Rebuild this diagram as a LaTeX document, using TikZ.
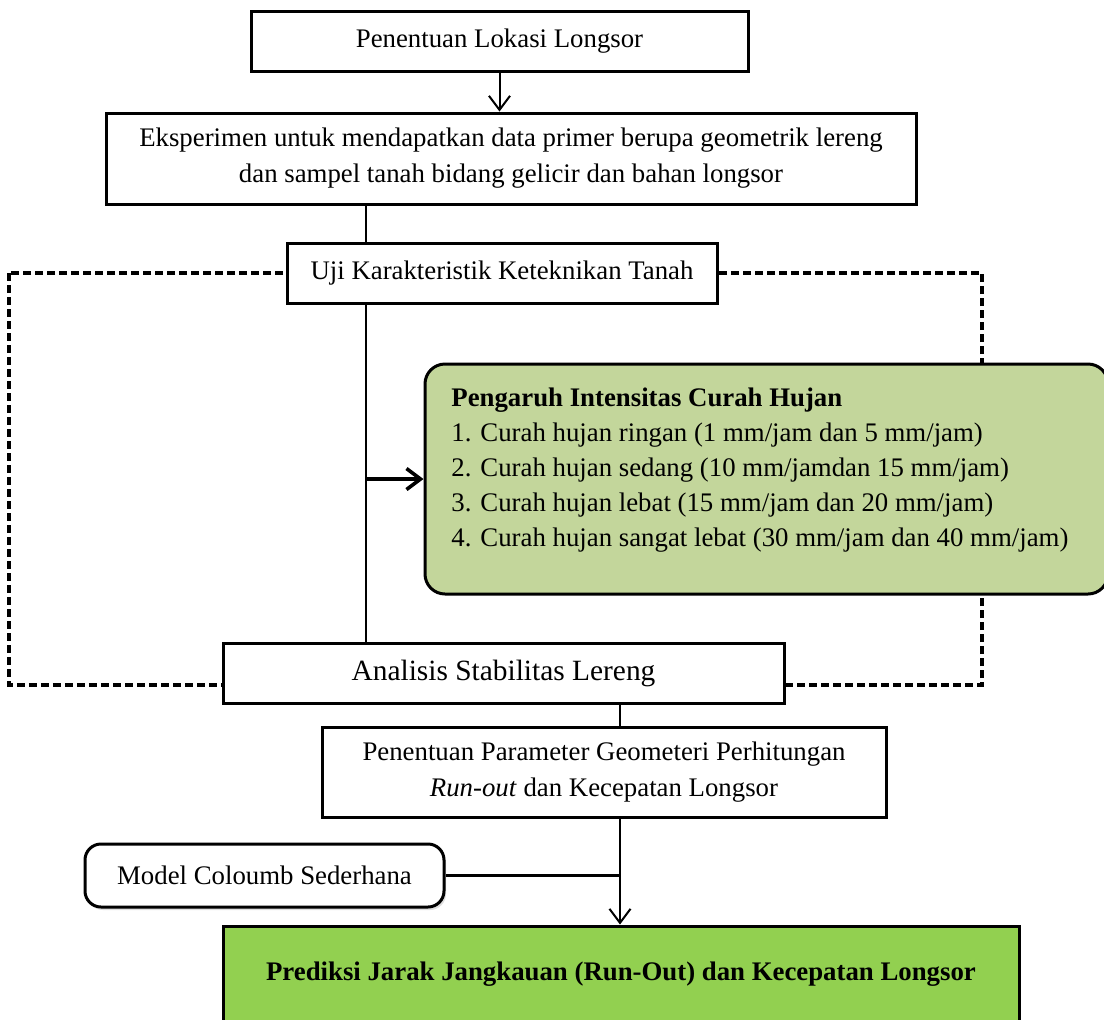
\documentclass[tikz,border=0pt]{standalone}
\usepackage{fontspec}
\setmainfont{Liberation Serif}
\usetikzlibrary{arrows.meta,shadows}
\definecolor{hijaumuda}{HTML}{C3D69B}
\definecolor{hijau}{HTML}{92D050}

\begin{document}
\begin{tikzpicture}[x=0.5pt,y=-0.5pt,
	kotak/.style={draw,line width=1.5pt,fill=white,align=center,inner sep=0pt,font=\fontsize{13.4}{18}\selectfont},
	garis/.style={line width=1pt},
	panah/.style={line width=1pt,-{Straight Barb[length=7pt,width=10.5pt]}},
	putus/.style={line width=1.6pt,dash pattern=on 4pt off 2pt}]
	\clip (0,0) rectangle (1104,1019);
	\fill[white] (0,0) rectangle (1104,1019);
	% bingkai putus-putus
	\draw[putus] (9,273) rectangle (982,685);
	\coordinate (sumbu) at (366,0);
	\coordinate (sumbudua) at (620,0);
	\node[kotak,minimum width=248.5pt,minimum height=30pt] (lokasi) at (499.5,41) {Penentuan Lokasi Longsor};
	\node[kotak,minimum width=405pt,minimum height=45.5pt] (eksperimen) at (511,158.5) {Eksperimen untuk mendapatkan data primer berupa geometrik lereng\\dan sampel tanah bidang gelicir dan bahan longsor};
	\node[kotak,minimum width=215pt,minimum height=30pt] (uji) at (502,273) {Uji Karakteristik Keteknikan Tanah};
	\node[kotak,rounded corners=10pt,fill=hijaumuda,minimum width=341.5pt,minimum height=115pt] (hujan) at (766.5,479) {};
	\node[anchor=north west,align=left,inner sep=0pt,font=\fontsize{13.4}{17.5}\selectfont] (hujanteks) at (451,387) {\textbf{Pengaruh Intensitas Curah Hujan}\\
		1. Curah hujan ringan (1 mm/jam dan 5 mm/jam)\\
		2. Curah hujan sedang (10 mm/jamdan 15 mm/jam)\\
		3. Curah hujan lebat (15 mm/jam dan 20 mm/jam)\\
		4. Curah hujan sangat lebat (30 mm/jam dan 40 mm/jam)};
	\node[kotak,minimum width=280.5pt,minimum height=30pt,font=\fontsize{14.7}{18}\selectfont] (analisis) at (503.5,673) {Analisis Stabilitas Lereng};
	\node[kotak,minimum width=282pt,minimum height=45pt] (parameter) at (604,772) {Penentuan Parameter Geometeri Perhitungan\\\textit{Run-out} dan Kecepatan Longsor};
	\node[kotak,rounded corners=8pt,minimum width=179.5pt,minimum height=31.5pt,drop shadow={opacity=0.25,shadow xshift=1pt,shadow yshift=-1.5pt}] (coloumb) at (264.5,875.5) {Model Coloumb Sederhana};
	\node[kotak,fill=hijau,minimum width=398pt,minimum height=48pt,font=\bfseries\fontsize{13.4}{18}\selectfont] (prediksi) at (621,974) {Prediksi Jarak Jangkauan (Run-Out) dan Kecepatan Longsor};
	\draw[panah] (lokasi.south) -- (lokasi.south |- eksperimen.north);
	\draw[garis] (eksperimen.south -| sumbu) -- (uji.north -| sumbu);
	\draw[garis] (uji.south -| sumbu) -- (analisis.north -| sumbu);
	\draw[panah,line width=1.8pt] (hujan.west -| sumbu) -- (hujan.west);
	\draw[garis] (analisis.south -| sumbudua) -- (parameter.north -| sumbudua);
	\draw[panah] (parameter.south -| sumbudua) -- (prediksi.north -| sumbudua);
	\draw[garis,line width=1.5pt] (coloumb.east) -- (coloumb.east -| sumbudua);
\end{tikzpicture}
\end{document}
